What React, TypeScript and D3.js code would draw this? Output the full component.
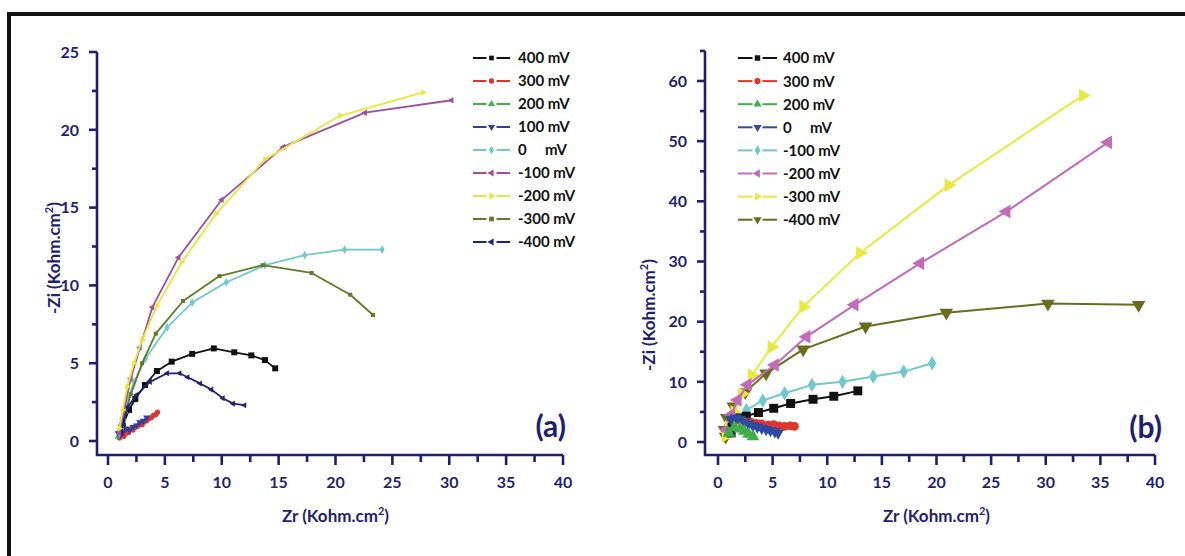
import React from "react";
import * as d3 from "d3";

// ---------- DATA ----------
type P = [number, number];
// Panel (a): [Zr, -Zi] in Kohm.cm2
const a400: P[] = [[1.1,0.4],[1.3,1.0],[1.85,2.0],[2.4,2.7],[3.25,3.6],[4.3,4.5],[5.6,5.1],[7.4,5.6],[9.3,5.95],[11.1,5.7],[12.6,5.5],[13.8,5.2],[14.7,4.67]];
const a300: P[] = [[1.0,0.2],[1.2,0.35],[1.4,0.3],[1.6,0.5],[1.8,0.55],[2.0,0.75],[2.2,0.7],[2.4,0.9],[2.6,0.95],[2.8,1.1],[3.0,1.05],[3.2,1.25],[3.4,1.3],[3.6,1.45],[3.8,1.5],[4.0,1.65],[4.2,1.7],[4.35,1.85]];
const a200: P[] = [[0.9,0.3],[1.0,0.7],[1.15,1.1],[1.3,1.5],[1.5,1.9]];
const a100: P[] = [[0.9,0.5],[1.1,0.4],[1.3,0.6],[1.6,0.8],[1.9,0.7],[2.2,0.9],[2.5,1.0],[2.8,1.2],[3.1,1.3],[3.4,1.5]];
const a0: P[] = [[1.0,0.5],[1.3,1.5],[1.7,2.6],[2.3,3.8],[3.3,5.3],[5.2,7.3],[7.4,8.9],[10.4,10.2],[13.8,11.3],[17.3,11.95],[20.8,12.3],[24.1,12.3]];
const aM100: P[] = [[1.0,0.5],[1.4,2.0],[2.0,4.0],[2.8,6.0],[3.9,8.6],[6.2,11.8],[10.0,15.5],[15.4,18.9],[22.6,21.1],[30.2,21.9]];
const aM200: P[] = [[1.0,0.8],[1.3,2.0],[1.7,3.5],[2.3,5.0],[3.0,6.5],[4.3,8.7],[6.5,11.5],[9.5,14.6],[13.8,18.1],[20.4,20.9],[27.7,22.4]];
const aM300: P[] = [[1.2,1.0],[2.0,3.0],[3.0,5.0],[4.2,6.9],[6.6,9.0],[9.8,10.6],[13.6,11.3],[17.9,10.8],[21.3,9.4],[23.3,8.1]];
const aM400: P[] = [[1.2,0.5],[1.3,1.15],[1.75,2.2],[2.5,2.95],[3.7,3.8],[5.2,4.35],[6.3,4.35],[7.0,4.1],[8.1,3.7],[9.1,3.3],[10.1,2.75],[11.0,2.4],[12.0,2.3]];

// Panel (b)
const b400: P[] = [[1.2,1.5],[1.3,2.5],[2.0,4.0],[2.6,4.3],[3.7,4.9],[5.1,5.6],[6.65,6.4],[8.7,7.1],[10.6,7.6],[12.8,8.5]];
const b300: P[] = [[1.5,3.5],[2.0,3.7],[2.5,3.4],[3.0,3.3],[3.5,3.1],[4.0,3.0],[4.6,2.8],[5.1,2.9],[5.6,2.7],[6.1,2.6],[6.6,2.7],[7.0,2.6]];
const b200: P[] = [[1.0,1.5],[1.5,2.4],[2.0,2.2],[2.4,1.8],[2.8,1.3],[3.2,0.9]];
const b0: P[] = [[1.2,3.8],[1.6,4.0],[2.0,3.8],[2.4,3.3],[2.8,3.0],[3.2,2.7],[3.6,2.5],[4.0,2.3],[4.4,2.1],[4.8,1.9],[5.2,1.7],[5.5,1.5]];
const bM100: P[] = [[1.2,2.6],[1.7,3.7],[2.6,5.3],[4.1,6.9],[6.1,8.1],[8.6,9.5],[11.4,10.0],[14.2,10.9],[17.0,11.7],[19.6,13.1]];
const bM200: P[] = [[0.8,2.0],[1.2,4.5],[1.8,7.0],[2.7,9.5],[5.2,12.8],[8.1,17.5],[12.5,22.8],[18.5,29.7],[26.4,38.3],[35.7,49.8]];
const bM300: P[] = [[0.7,1.0],[1.0,2.5],[1.5,5.0],[2.2,8.0],[3.1,11.1],[4.9,15.8],[7.8,22.5],[13.0,31.4],[21.1,42.7],[33.4,57.6]];
const bM400: P[] = [[0.7,0.9],[0.6,2.0],[0.8,4.0],[1.4,5.9],[2.5,8.3],[4.4,11.4],[7.8,15.4],[13.5,19.2],[20.9,21.5],[30.2,23.0],[38.5,22.8]];

const labelsA = ["400 mV", "300 mV", "200 mV", "100 mV", "0     mV", "-100 mV", "-200 mV", "-300 mV", "-400 mV"];
const labelsB = ["400 mV", "300 mV", "200 mV", "0     mV", "-100 mV", "-200 mV", "-300 mV", "-400 mV"];

const xTicks = [0, 5, 10, 15, 20, 25, 30, 35, 40];
const yTicksA = [0, 5, 10, 15, 20, 25];
const yTicksB = [0, 10, 20, 30, 40, 50, 60];

// ---------- STYLE ----------
type Shape = "square" | "circle" | "up" | "down" | "left" | "right" | "diamond";
interface Series { data: P[]; color: string; shape: Shape; size: number; }

const NAVY = "#1f1f6e";
const FONT = "Lato, 'Open Sans', sans-serif";

const seriesA: Series[] = [
  { data: a400, color: "#111111", shape: "square", size: 36 },
  { data: a300, color: "#e0352c", shape: "circle", size: 22 },
  { data: a200, color: "#3fae49", shape: "up", size: 22 },
  { data: a100, color: "#2f3f9c", shape: "down", size: 22 },
  { data: a0, color: "#6fc8cc", shape: "diamond", size: 22 },
  { data: aM300, color: "#5f7a25", shape: "square", size: 16 },
  { data: aM400, color: "#222272", shape: "left", size: 16 },
  { data: aM100, color: "#9e4f9c", shape: "left", size: 18 },
  { data: aM200, color: "#e6e63c", shape: "right", size: 18 },
];
const legendA: Series[] = [seriesA[0], seriesA[1], seriesA[2], seriesA[3], seriesA[4], seriesA[7], seriesA[8], seriesA[5], seriesA[6]];

const seriesB: Series[] = [
  { data: bM400, color: "#6b6b1e", shape: "down", size: 80 },
  { data: bM300, color: "#e8e83e", shape: "right", size: 80 },
  { data: bM200, color: "#c26bb6", shape: "left", size: 80 },
  { data: bM100, color: "#6fc8cc", shape: "diamond", size: 60 },
  { data: b400, color: "#111111", shape: "square", size: 80 },
  { data: b300, color: "#e0352c", shape: "circle", size: 60 },
  { data: b0, color: "#2f4aa0", shape: "down", size: 60 },
  { data: b200, color: "#3fae49", shape: "up", size: 70 },
];
const legendB: Series[] = [seriesB[4], seriesB[5], seriesB[7], seriesB[6], seriesB[3], seriesB[2], seriesB[1], seriesB[0]];

function symPath(shape: Shape, size: number): { d: string; rot: number } {
  const sym = {
    square: d3.symbolSquare, circle: d3.symbolCircle, up: d3.symbolTriangle,
    down: d3.symbolTriangle, left: d3.symbolTriangle, right: d3.symbolTriangle,
    diamond: d3.symbolDiamond,
  }[shape];
  const rot = { square: 0, circle: 0, up: 0, down: 180, left: -90, right: 90, diamond: 0 }[shape];
  return { d: d3.symbol(sym, size)() as string, rot };
}

interface PanelProps {
  series: Series[]; legend: Series[]; labels: string[];
  x0: number; x40: number; yPix0: number; yPixTop: number; yTop: number;
  axisX: number; axisBottom: number; axisTopY: number;
  yTicks: number[]; yMinorStep: number; yMax: number;
  lineW: number;
  legX1: number; legX2: number; legText: number; legY0: number; legDy: number; legSize: number;
  tag: string; tagX: number; yTitleX: number; yTitleY: number;
}

function Panel(p: PanelProps) {
  const x = d3.scaleLinear().domain([0, 40]).range([p.x0, p.x40]);
  const y = d3.scaleLinear().domain([0, p.yTop]).range([p.yPix0, p.yPixTop]);
  const line = d3.line<P>().x((d) => x(d[0])).y((d) => y(d[1]));
  const yMinor = d3.range(0, p.yMax + 0.001, p.yMinorStep).filter((v) => !p.yTicks.includes(v));
  const xMinor = d3.range(2.5, 40, 5);
  return (
    <g>
      {/* series */}
      {p.series.map((s, i) => (
        <g key={i}>
          <path d={line(s.data) as string} fill="none" stroke={s.color} strokeWidth={p.lineW} strokeLinejoin="round" />
          {s.data.map((d, j) => {
            const sp = symPath(s.shape, s.size);
            return <path key={j} d={sp.d} fill={s.color} transform={`translate(${x(d[0])},${y(d[1])}) rotate(${sp.rot})`} />;
          })}
        </g>
      ))}
      {/* axes */}
      <path d={`M${p.axisX},${y(p.yMax)}V${p.axisBottom}H${x(40)}`} fill="none" stroke={NAVY} strokeWidth={2.6} />
      {p.yTicks.map((t) => (
        <g key={"yt" + t}>
          <line x1={p.axisX - 8} x2={p.axisX} y1={y(t)} y2={y(t)} stroke={NAVY} strokeWidth={2.6} />
          <text x={p.axisX - 18} y={y(t)} dy="0.36em" textAnchor="end" fontSize={16} fontWeight={700} fill={NAVY} fontFamily={FONT}>{t}</text>
        </g>
      ))}
      {yMinor.map((t) => (
        <line key={"ym" + t} x1={p.axisX - 5} x2={p.axisX} y1={y(t)} y2={y(t)} stroke={NAVY} strokeWidth={2.6} />
      ))}
      {xTicks.map((t) => (
        <g key={"xt" + t}>
          <line x1={x(t)} x2={x(t)} y1={p.axisBottom} y2={p.axisBottom + 10} stroke={NAVY} strokeWidth={2.6} />
          <text x={x(t)} y={p.axisBottom + 27} dy="0.36em" textAnchor="middle" fontSize={16} fontWeight={700} fill={NAVY} fontFamily={FONT}>{t}</text>
        </g>
      ))}
      {xMinor.map((t) => (
        <line key={"xm" + t} x1={x(t)} x2={x(t)} y1={p.axisBottom} y2={p.axisBottom + 7} stroke={NAVY} strokeWidth={2.6} />
      ))}
      {/* titles */}
      <text x={(x(0) + x(40)) / 2} y={p.axisBottom + 67} textAnchor="middle" fontSize={17} fontWeight={700} fill={NAVY} fontFamily={FONT}>
        Zr (Kohm.cm<tspan dy={-7} fontSize={11}>2</tspan><tspan dy={7}>)</tspan>
      </text>
      <text transform={`translate(${p.yTitleX},${p.yTitleY}) rotate(-90)`} textAnchor="middle" fontSize={17} fontWeight={700} fill={NAVY} fontFamily={FONT}>
        -Zi (Kohm.cm<tspan dy={-7} fontSize={11}>2</tspan><tspan dy={7}>)</tspan>
      </text>
      <text x={p.tagX} y={y(0) - 4} textAnchor="end" fontSize={30} fontWeight={700} fill={NAVY} fontFamily={FONT}>{p.tag}</text>
      {/* legend */}
      {p.legend.map((s, i) => {
        const ly = p.legY0 + i * p.legDy;
        const mx = (p.legX1 + p.legX2) / 2;
        const sp = symPath(s.shape, p.legSize);
        return (
          <g key={"lg" + i}>
            <line x1={p.legX1} x2={mx - 5} y1={ly} y2={ly} stroke={s.color} strokeWidth={2} />
            <line x1={mx + 5} x2={p.legX2} y1={ly} y2={ly} stroke={s.color} strokeWidth={2} />
            <path d={sp.d} fill={s.color} transform={`translate(${mx},${ly}) rotate(${sp.rot})`} />
            <text x={p.legText} y={ly} dy="0.36em" fontSize={15} fontWeight={700} fill="#111" fontFamily={FONT} style={{ whiteSpace: "pre" }}>{p.labels[i]}</text>
          </g>
        );
      })}
    </g>
  );
}

export default function App() {
  return (
    <svg width={1185} height={556} style={{ position: "absolute", left: 0, top: 0, background: "#fff" }}>
      <rect x={0} y={0} width={1185} height={556} fill="#fff" />
      <rect x={9} y={14} width={1200} height={600} fill="none" stroke="#111" strokeWidth={4} />
      <Panel
        series={seriesA} legend={legendA} labels={labelsA}
        x0={108} x40={563} yPix0={441} yPixTop={52} yTop={25}
        axisX={97} axisBottom={455} axisTopY={51}
        yTicks={yTicksA} yMinorStep={2.5} yMax={25} lineW={1.8}
        legX1={473} legX2={510} legText={518} legY0={58} legDy={23} legSize={22}
        tag="(a)" tagX={566} yTitleX={60} yTitleY={258}
      />
      <Panel
        series={seriesB} legend={legendB} labels={labelsB}
        x0={718} x40={1155} yPix0={442} yPixTop={81} yTop={60}
        axisX={705} axisBottom={455} axisTopY={52}
        yTicks={yTicksB} yMinorStep={5} yMax={65} lineW={2}
        legX1={738} legX2={777} legText={783} legY0={58} legDy={23.1} legSize={30}
        tag="(b)" tagX={1162} yTitleX={655} yTitleY={315}
      />
    </svg>
  );
}
